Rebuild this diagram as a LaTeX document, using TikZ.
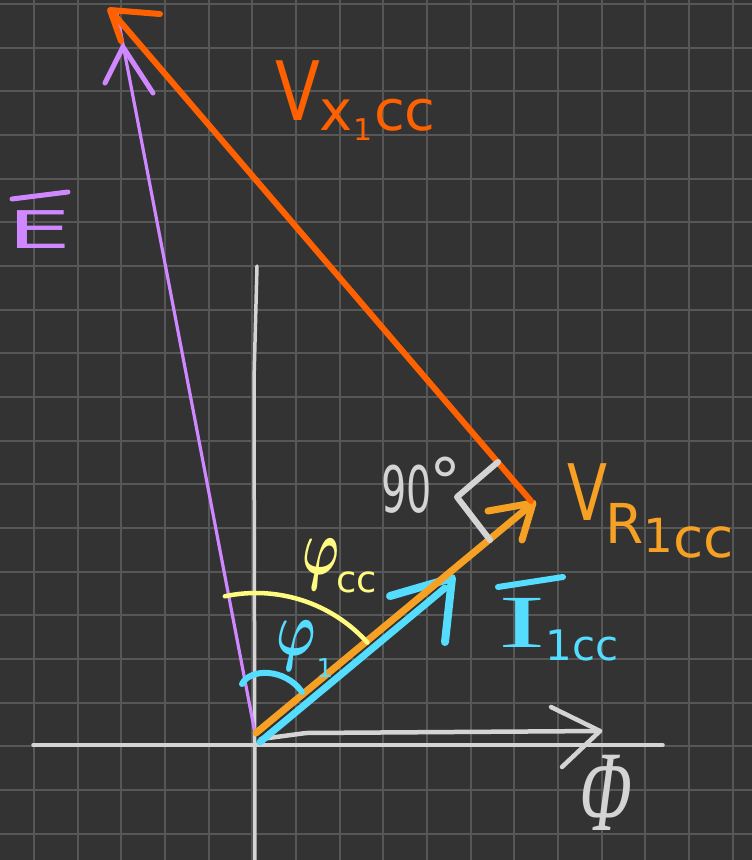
\RequirePackage{fix-cm}
\documentclass[tikz,border=0pt]{standalone}
\usepackage{fontspec}
\setmainfont{DejaVu Sans}
\newfontfamily\seriff{Liberation Serif}
\newfontfamily\slserif[FakeSlant=0.22]{Liberation Serif}
\usepackage{graphicx}
\newcommand{\myfs}[1]{\fontsize{#1}{#1}\selectfont}
\definecolor{bgc}{HTML}{333333}
\definecolor{gridc}{HTML}{575757}
\definecolor{axc}{HTML}{D4D4D4}
\definecolor{vxc}{HTML}{FF6100}
\definecolor{vrc}{HTML}{F6A024}
\definecolor{cyc}{HTML}{55DDFF}
\definecolor{puc}{HTML}{CF88FF}
\definecolor{yec}{HTML}{FFFA80}
\tikzset{
  gridline/.style={draw=gridc, line width=2},
  axisline/.style={draw=axc, line width=3.5, line cap=round, line join=round},
  flux/.style={draw=axc, line width=4.5, line cap=round, line join=round},
  eline/.style={draw=puc, line width=3.2, line cap=round},
  ehead/.style={draw=puc, line width=5, line cap=round, line join=round},
  vxline/.style={draw=vxc, line width=6, line cap=round, line join=round},
  vrline/.style={draw=vrc, line width=7, line cap=round, line join=round},
  iline/.style={draw=cyc, line width=7, line cap=round, line join=round},
  ihead/.style={draw=cyc, line width=8, line cap=round, line join=round},
  rightmark/.style={draw=axc, line width=6, line cap=round, line join=round},
  yarc/.style={draw=yec, line width=4.5, line cap=round},
  carc/.style={draw=cyc, line width=6, line cap=round},
  lab/.style={inner sep=0pt, outer sep=0pt},
}
\begin{document}
\begin{tikzpicture}[x=1pt,y=-1pt]
\fill[bgc] (0,0) rectangle (752,860);
\useasboundingbox (0,0) rectangle (752,860);
% grid
\foreach \k in {0,...,16} \draw[gridline] ({34+43.67*\k},0) -- ({34+43.67*\k},860);
\foreach \k in {0,...,19} \draw[gridline] (0,{4+43.67*\k}) -- (752,{4+43.67*\k});
% coordinates
\coordinate (O) at (256,743);
\coordinate (hL) at (33,745);
\coordinate (hR) at (663,745);
\coordinate (vT) at (257,266);
\coordinate (vM) at (254,380);
\coordinate (vB) at (255,864);
\coordinate (phS) at (261,739);
\coordinate (phM) at (306,733);
\coordinate (phT) at (600,731);
\coordinate (phA) at (551,707);
\coordinate (phB) at (562,767);
\coordinate (eS) at (255,733);
\coordinate (eT) at (117,13);
\coordinate (eA) at (105,83);
\coordinate (eH) at (123,47);
\coordinate (eB) at (153,93);
\coordinate (vxS) at (531,501);
\coordinate (vxT) at (112,12);
\coordinate (vxA) at (160,14);
\coordinate (vxH) at (110,10);
\coordinate (vxB) at (121,41);
\coordinate (vrS) at (256,733);
\coordinate (vrT) at (531,505);
\coordinate (vrA) at (488,511);
\coordinate (vrH) at (533,503);
\coordinate (vrB) at (522,540);
\coordinate (iS) at (260,742);
\coordinate (iT) at (445,588);
\coordinate (iA) at (390,596);
\coordinate (iH) at (452,578);
\coordinate (iB) at (445,642);
\coordinate (raA) at (498,462);
\coordinate (raC) at (457,497);
\coordinate (raB) at (490,540);
% axes
\draw[axisline] (hL) -- (hR);
\draw[axisline] (vT) -- (vM) -- (vB);
% flux arrow
\draw[flux] (phS) -- (phM) -- (phT);
\draw[flux] (phA) -- (phT) -- (phB);
% E phasor
\draw[eline] (eS) -- (eT);
\draw[ehead] (eA) -- (eH) -- (eB);
% I1cc
\draw[iline] (iS) -- (iT);
\draw[ihead] (iA) -- (iH) -- (iB);
% VR1cc
\draw[vrline] (vrS) -- (vrT);
\draw[vrline] (vrA) -- (vrH) -- (vrB);
% VX1cc
\draw[vxline] (vxS) -- (vxT);
\draw[vxline] (vxA) -- (vxH) -- (vxB);
% right angle mark
\draw[rightmark] (raA) -- (raC) -- (raB);
% angle arcs
\draw[yarc] (O) ++(-102:150) arc[start angle=-102, end angle=-42, radius=150];
\draw[carc] (242,684) .. controls (250,668) and (285,668) .. (302,692);
% labels
\draw[ehead] (12,199) -- (68,192);
\node[lab, text=puc, anchor=base west] (lE) at (8,248) {\myfs{52}\scalebox{1.95}[1]{E}};
\node[lab, text=vxc, anchor=base west] (lVX) at (275,120) {\myfs{82}\scalebox{0.8}[1]{V}\raisebox{-10pt}{\myfs{56}x\raisebox{-10pt}{\myfs{30}1}\hspace{2pt}cc}};
\node[lab, text=vrc, anchor=base west] (lVR) at (567,520) {\myfs{78}\scalebox{0.75}[1]{V}\hspace{-2pt}\raisebox{-23pt}{\myfs{55}R}\raisebox{-32pt}{\myfs{47}1}\raisebox{-37pt}{\myfs{55}cc}};
\draw[ihead, line width=6] (498,587) -- (563,577);
\node[lab, text=cyc, anchor=base west] (lI) at (498,647) {\myfs{75}\scalebox{1.9}[1]{\seriff I}\raisebox{-13pt}{\myfs{42}1cc}};
\node[lab, text=cyc, anchor=base west] (lphi1) at (276,655) {\myfs{78}\scalebox{0.68}[1]{\boldmath$\varphi$}\hspace{1pt}\raisebox{-22pt}{\myfs{26}1}};
\node[lab, text=yec, anchor=base west] (lphicc) at (302,574) {\myfs{80}\scalebox{0.62}[1]{\boldmath$\varphi$}\hspace{-3pt}\raisebox{-18pt}{\myfs{37}cc}};
\node[lab, text=axc, anchor=base west] (l90) at (381,512) {\myfs{64}\scalebox{0.62}[1]{90}\hspace{-2pt}\raisebox{8pt}{°}};
\node[lab, text=axc, anchor=base] (lPhi) at (602,830) {\myfs{115}\scalebox{0.6}[1]{\slserif Φ}};
\end{tikzpicture}
\end{document}
